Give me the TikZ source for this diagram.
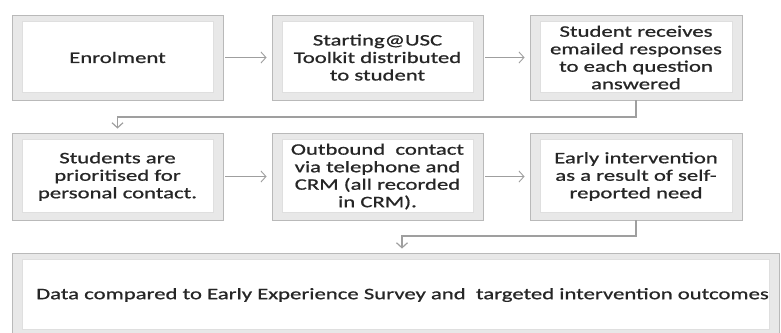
\documentclass[tikz,border=0pt]{standalone}
\usepackage{fontspec}
\setmainfont{Carlito}[FakeStretch=1.42,UprightFeatures={FakeBold=0.9}]
\usetikzlibrary{arrows.meta}
\tikzset{
  x=1pt,y=-1pt,
  bevelbox/.style={rectangle, draw=gray!55, line width=0.9pt, inner sep=0pt,
    align=center, text=black!85, font=\fontsize{16}{17.5}\selectfont,
    path picture={
      \fill[gray!18] (path picture bounding box.south west) rectangle (path picture bounding box.north east);
      \fill[white, draw=gray!25, line width=0.5pt]
        ([xshift=10pt,yshift=-6pt]path picture bounding box.north west) rectangle
        ([xshift=-10pt,yshift=8pt]path picture bounding box.south east);
    }},
  flow/.style={draw=gray!75, line width=0.9pt, -{Straight Barb[length=5pt,width=11pt]}},
  elbow/.style={draw=gray!75, line width=1.2pt, -{Straight Barb[length=5pt,width=11pt]}},
}
\begin{document}
\begin{tikzpicture}
\useasboundingbox (0,0) rectangle (781,332);
\clip (0,0) rectangle (781,332);
% row 1
\node[bevelbox, minimum width=211pt, minimum height=85pt] (b1) at (117.5,57.5) {Enrolment};
\node[bevelbox, minimum width=211pt, minimum height=85pt] (b2) at (377.5,57.5) {Starting@USC\\Toolkit distributed\\to student};
\node[bevelbox, minimum width=212pt, minimum height=85pt] (b3) at (636,57.5) {Student receives\\emailed responses\\to each question\\answered};
% row 2
\node[bevelbox, minimum width=211pt, minimum height=87pt] (b4) at (117.5,176.5) {Students are\\prioritised for\\personal contact.};
\node[bevelbox, minimum width=211pt, minimum height=87pt] (b5) at (377.5,176.5) {Outbound\ \ contact\\via telephone and\\CRM (all recorded\\in CRM).};
\node[bevelbox, minimum width=212pt, minimum height=87pt] (b6) at (636,176.5) {Early intervention\\as a result of self-\\reported need};
% row 3
\node[bevelbox, minimum width=767pt, minimum height=84pt] (b7) at (395.5,295) {\hspace*{14pt}Data compared to Early Experience Survey and\ \ targeted intervention outcomes};
% connectors
\draw[flow, shorten <=2pt, shorten >=5pt] (b1.east) -- (b2.west);
\draw[flow, shorten <=2pt, shorten >=5pt] (b2.east) -- (b3.west);
\draw[flow, shorten <=2pt, shorten >=5pt] (b4.east) -- (b5.west);
\draw[flow, shorten <=2pt, shorten >=5pt] (b5.east) -- (b6.west);
\coordinate (k1) at (636,117);
\coordinate (k2) at (117.5,117);
\draw[elbow, shorten >=4pt] (b3.south) -- (k1) -- (k2) -- (k2 |- b4.north);
\coordinate (k3) at (636,236);
\coordinate (k4) at (402,236);
\draw[elbow, shorten >=4pt] (b6.south) -- (k3) -- (k4) -- (k4 |- b7.north);
\end{tikzpicture}
\end{document}
